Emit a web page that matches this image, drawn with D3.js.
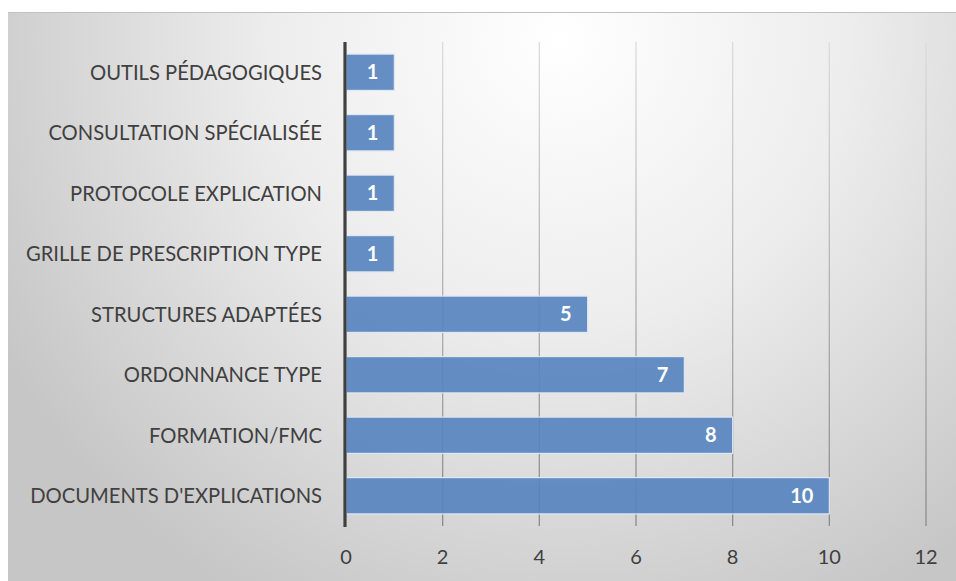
<!DOCTYPE html>
<html><head><meta charset="utf-8">
<script src="https://cdn.jsdelivr.net/npm/d3@7"></script>
<style>body{margin:0;background:#fff}svg{display:block}</style>
</head><body><svg id="c" width="956" height="581"></svg>
<script>
const categories = ["OUTILS PÉDAGOGIQUES","CONSULTATION SPÉCIALISÉE","PROTOCOLE EXPLICATION","GRILLE DE PRESCRIPTION TYPE","STRUCTURES ADAPTÉES","ORDONNANCE TYPE","FORMATION/FMC","DOCUMENTS D'EXPLICATIONS"];
const values = [1,1,1,1,5,7,8,10];
const xTicks = [0,2,4,6,8,10,12];

const svg = d3.select("#c");
const defs = svg.append("defs");
const rg = defs.append("radialGradient").attr("id","bg").attr("gradientUnits","userSpaceOnUse")
  .attr("cx",560).attr("cy",40).attr("r",640);
rg.append("stop").attr("offset","0").attr("stop-color","#ffffff");
rg.append("stop").attr("offset","0.45").attr("stop-color","#ededed");
rg.append("stop").attr("offset","1").attr("stop-color","#c6c6c6");
const gg = defs.append("linearGradient").attr("id","grid").attr("gradientUnits","userSpaceOnUse")
  .attr("x1",0).attr("y1",42).attr("x2",0).attr("y2",526);
gg.append("stop").attr("offset","0").attr("stop-color","#dcdcdc");
gg.append("stop").attr("offset","1").attr("stop-color","#8a8a8a");

const font = "Lato, 'Open Sans', sans-serif";

svg.append("rect").attr("x",8).attr("y",12).attr("width",948).attr("height",569).attr("fill","url(#bg)");
svg.append("line").attr("x1",8).attr("x2",956).attr("y1",12.5).attr("y2",12.5).attr("stroke","#c0c0c0").attr("stroke-width",1);

const x = d3.scaleLinear().domain([0,12]).range([346,926]);
const y = d3.scaleBand().domain(categories).range([42,526]).paddingInner(0.4).paddingOuter(0.2);

svg.append("g").selectAll("line").data(xTicks.slice(1)).join("line")
  .attr("x1",d=>x(d)).attr("x2",d=>x(d)).attr("y1",42).attr("y2",526)
  .attr("stroke","url(#grid)").attr("stroke-width",1.3);

svg.append("g").selectAll("rect").data(values).join("rect")
  .attr("x",x(0)).attr("y",(d,i)=>y(categories[i]))
  .attr("width",d=>x(d)-x(0)).attr("height",y.bandwidth())
  .attr("fill","#5784bf").attr("fill-opacity",0.92)
  .attr("stroke","#dfe7f2").attr("stroke-width",1.2);

svg.append("g").selectAll("text").data(values).join("text")
  .attr("x",d=>x(d)-16).attr("y",(d,i)=>y(categories[i])+y.bandwidth()/2)
  .attr("dy","0.36em").attr("text-anchor","end")
  .attr("font-family",font).attr("font-weight","bold").attr("font-size",20)
  .attr("fill","#ffffff").text(d=>d);

svg.append("line").attr("x1",345).attr("x2",345).attr("y1",42).attr("y2",527)
  .attr("stroke","#404040").attr("stroke-width",3.2);

svg.append("g").selectAll("text").data(categories).join("text")
  .attr("x",322).attr("y",d=>y(d)+y.bandwidth()/2).attr("dy","0.36em").attr("text-anchor","end")
  .attr("font-family",font).attr("font-size",20.2).attr("fill","#404040").text(d=>d);

svg.append("g").selectAll("text").data(xTicks).join("text")
  .attr("x",d=>x(d)).attr("y",557).attr("dy","0.36em").attr("text-anchor","middle")
  .attr("font-family",font).attr("font-size",20).attr("fill","#404040").text(d=>d);
</script></body></html>
